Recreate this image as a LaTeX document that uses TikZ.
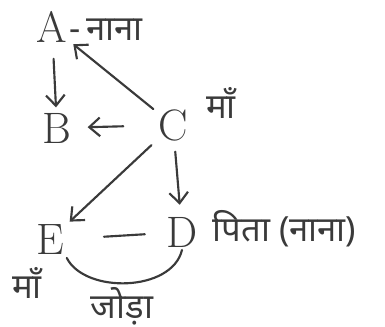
\documentclass[tikz,border=0pt]{standalone}
\usepackage{fontspec}
\newfontfamily\deva[Script=Devanagari]{Noto Sans}
\usetikzlibrary{
  positioning,
  arrows.meta,
}
\definecolor{ink}{HTML}{3A3A3A}
\tikzset{
  letter/.style={
    text=ink, font=\fontsize{33}{35}\selectfont, inner sep=2pt,
  },
  devtext/.style={
    text=ink, font=\deva\fontsize{26}{30}\selectfont, inner sep=1pt,
  },
  arrow/.style={-{Straight Barb[length=8pt,width=14pt]}, ink, line width=1.6pt, line cap=round},
  plain/.style={ink, line width=1.6pt, line cap=round},
}

\begin{document}
\begin{tikzpicture}[x=0.75pt, y=-0.75pt]

  \useasboundingbox[fill=white] (0,0) rectangle (385,327);

  % Nodes
  \node[letter] (a) at (52, 27) {A};
  \node[letter] (b) at (57, 128) {B};
  \node[letter] (c) at (173, 125) {C};
  \node[letter] (e) at (50, 240) {E};
  \node[letter] (d) at (182, 232) {D};

  % Labels
  \node[devtext, anchor=west] (alab) at (68, 30) {-\,नाना};
  \node[devtext] (clab) at (221, 103) {माँ};
  \node[devtext, anchor=west] (dlab) at (211, 229) {पिता (नाना)};
  \node[devtext] (elab) at (27, 283) {माँ};
  \node[devtext] (pair) at (122, 306) {जोड़ा};

  % Arrows
  \draw[arrow, shorten <=10pt, shorten >=2pt] (a) -- (b);
  \draw[arrow, shorten <=2pt, shorten >=3pt] (c) -- (a);
  \draw[arrow, shorten <=24pt, shorten >=10pt] (c) -- (b);
  \draw[arrow, shorten <=4pt, shorten >=3pt] (c) -- (e);
  \draw[arrow, shorten <=6pt, shorten >=7pt] (c) -- (d);

  % Couple
  \draw[plain, shorten <=28pt, shorten >=14pt] (e) -- (d);
  \draw[plain] (e.south east) .. controls (85, 294) and (172, 292) .. (d.south);

\end{tikzpicture}
\end{document}
